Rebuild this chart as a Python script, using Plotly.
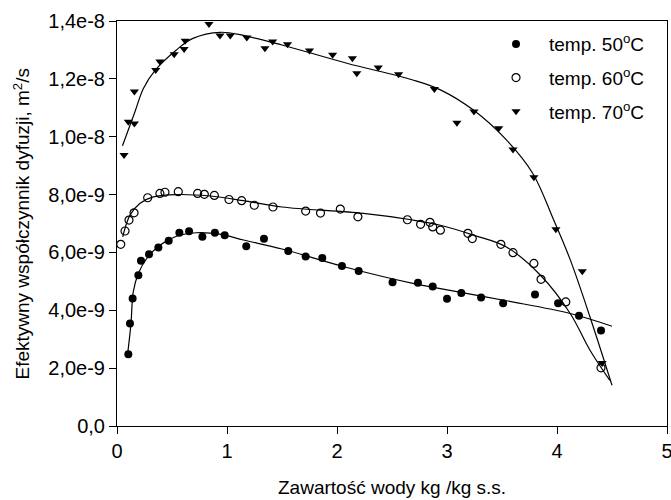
import plotly.graph_objects as go

# ---- data (y in units of 1e-9 m^2/s) ----
x50 = [0.103, 0.118, 0.142, 0.194, 0.218, 0.291, 0.376, 0.47, 0.567, 0.655, 0.776, 0.89, 0.979,
       1.175, 1.336, 1.557, 1.715, 1.866, 2.045, 2.197, 2.505, 2.736, 2.87, 3.0, 3.13, 3.31, 3.51,
       3.8, 4.01, 4.2, 4.4]
y50 = [2.48, 3.54, 4.41, 5.21, 5.71, 5.94, 6.17, 6.40, 6.68, 6.73, 6.54, 6.68, 6.59,
       6.21, 6.47, 6.05, 5.86, 5.81, 5.53, 5.36, 4.97, 4.95, 4.82, 4.40, 4.60, 4.44, 4.24,
       4.55, 4.24, 3.81, 3.30]

x60 = [0.034, 0.073, 0.109, 0.155, 0.279, 0.39, 0.436, 0.557, 0.733, 0.794, 0.885, 1.018, 1.133,
       1.248, 1.418, 1.715, 1.85, 2.03, 2.19, 2.64, 2.76, 2.845, 2.87, 2.94, 3.19, 3.23, 3.49,
       3.6, 3.79, 3.855, 4.08, 4.4]
y60 = [6.28, 6.74, 7.12, 7.37, 7.89, 8.04, 8.08, 8.10, 8.04, 8.01, 7.97, 7.83, 7.79,
       7.63, 7.57, 7.43, 7.36, 7.50, 7.23, 7.13, 6.97, 7.04, 6.88, 6.77, 6.66, 6.48, 6.28,
       5.99, 5.62, 5.07, 4.29, 2.01]

x70 = [0.064, 0.103, 0.158, 0.158, 0.352, 0.39, 0.52, 0.61, 0.62, 0.836, 0.936, 1.03, 1.18,
       1.345, 1.415, 1.55, 1.75, 1.96, 2.14, 2.18, 2.375, 2.56, 2.885, 3.09, 3.245, 3.47, 3.6,
       3.79, 3.99, 4.23, 4.41]
y70 = [9.37, 10.52, 10.46, 11.56, 12.31, 12.6, 12.85, 13.03, 13.32, 13.9, 13.5, 13.5, 13.43,
       13.06, 13.29, 13.2, 12.98, 12.83, 12.71, 12.19, 12.39, 12.16, 11.65, 10.48, 10.87, 10.29, 9.56,
       8.6, 6.8, 5.35, 2.18]

# fitted curves
c50_x = [0.097, 0.127, 0.148, 0.194, 0.27, 0.39, 0.54, 0.72, 0.936, 1.15, 1.5, 2.09, 2.69, 2.94, 3.54, 4.12, 4.5]
c50_y = [2.5, 3.54, 4.64, 5.27, 5.79, 6.25, 6.56, 6.68, 6.63, 6.43, 6.12, 5.48, 4.93, 4.75, 4.33, 3.89, 3.45]

c60_x = [0.052, 0.118, 0.21, 0.33, 0.54, 0.845, 1.15, 1.5, 2.24, 2.69, 2.94, 3.24, 3.54, 3.85, 4.12, 4.3, 4.48]
c60_y = [6.54, 7.29, 7.70, 7.92, 8.0, 7.95, 7.79, 7.57, 7.35, 7.12, 6.94, 6.6, 6.19, 5.21, 3.89, 2.62, 1.58]

c70_x = [0.05, 0.164, 0.24, 0.35, 0.54, 0.69, 0.94, 1.15, 1.5, 2.09, 2.69, 2.94, 3.24, 3.54, 3.78, 3.97, 4.12, 4.3, 4.5]
c70_y = [9.69, 10.87, 11.67, 12.31, 13.0, 13.4, 13.61, 13.5, 13.17, 12.54, 11.96, 11.62, 10.92, 9.89, 8.73, 7.12, 5.75, 3.77, 1.41]

series_names = ["temp. 50<sup>o</sup>C", "temp. 60<sup>o</sup>C", "temp. 70<sup>o</sup>C"]

x_ticks = [0, 1, 2, 3, 4, 5]
y_ticks = [0, 2, 4, 6, 8, 10, 12, 14]
y_tick_text = ["0,0", "2,0e-9", "4,0e-9", "6,0e-9", "8,0e-9", "1,0e-8", "1,2e-8", "1,4e-8"]

SCALE = 1e-9
FONT = "Liberation Sans, Arial, sans-serif"

def sc(v):
    return [a * SCALE for a in v]

fig = go.Figure()

for cx, cy in [(c50_x, c50_y), (c60_x, c60_y), (c70_x, c70_y)]:
    fig.add_trace(go.Scatter(x=cx, y=sc(cy), mode="lines", line=dict(color="black", width=1.2, shape="spline"),
                             showlegend=False, hoverinfo="skip"))

fig.add_trace(go.Scatter(x=x50, y=sc(y50), mode="markers", name=series_names[0], legendgroup="a",
                         marker=dict(symbol="circle", size=8, color="black")))
fig.add_trace(go.Scatter(x=x60, y=sc(y60), mode="markers", name=series_names[1], legendgroup="b",
                         marker=dict(symbol="circle-open", size=8, color="black", line=dict(width=1.2))))
fig.add_trace(go.Scatter(x=x70, y=sc(y70), mode="markers", name=series_names[2], legendgroup="c",
                         marker=dict(symbol="triangle-down", size=8, color="black")))

fig.update_layout(
    width=671, height=500,
    margin=dict(l=117, r=4, t=21, b=74, autoexpand=False),
    paper_bgcolor="white", plot_bgcolor="white",
    font=dict(family=FONT, size=19, color="black"),
    showlegend=True,
    legend=dict(x=0.6655, y=0.99, xanchor="left", yanchor="top", bgcolor="rgba(0,0,0,0)",
                itemwidth=56, tracegroupgap=6, font=dict(size=19)),
    xaxis=dict(range=[0, 5], tickvals=x_ticks, ticks="outside", ticklen=7, tickcolor="black",
               showline=True, linecolor="black", linewidth=1, mirror=True, showgrid=False,
               zeroline=False, tickfont=dict(size=20), ticklabeloverflow="allow", automargin=False),
    yaxis=dict(range=[0, 14 * SCALE], tickvals=sc(y_ticks), ticktext=y_tick_text, ticks="outside",
               ticklen=7, tickcolor="black", showline=True, linecolor="black", linewidth=1,
               mirror=True, showgrid=False, zeroline=False, tickfont=dict(size=20), automargin=False),
    annotations=[
        dict(text="Zawartość wody kg /kg s.s.", xref="paper", yref="paper", x=0.5, y=0,
             xanchor="center", yanchor="middle", yshift=-61, showarrow=False, font=dict(size=19)),
        dict(text="Efektywny współczynnik dyfuzji, m<sup>2</sup>/s", xref="paper", yref="paper",
             x=0, y=0.5, xanchor="center", yanchor="middle", xshift=-96, textangle=-90,
             showarrow=False, font=dict(size=19)),
    ],
)

fig.write_html("out.html")
